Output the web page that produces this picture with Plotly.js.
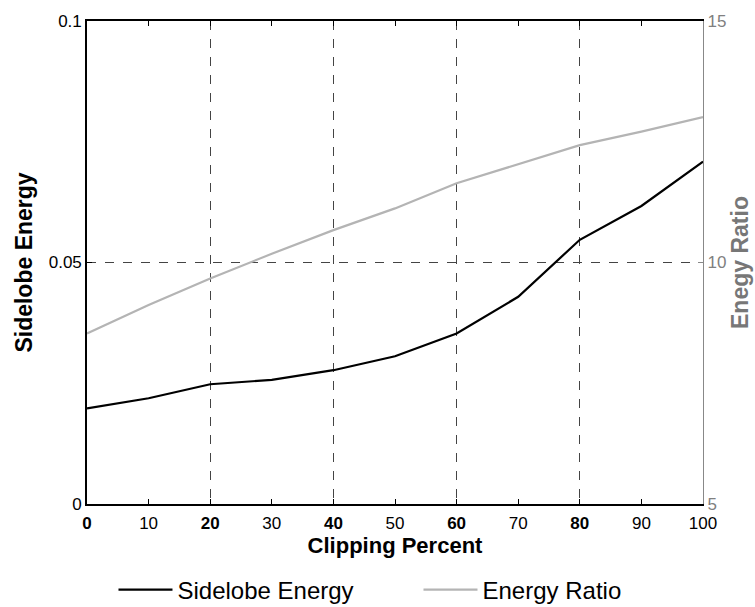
<!DOCTYPE html>
<html>
<head>
<meta charset="utf-8">
<script src="https://cdn.plot.ly/plotly-3.0.1.min.js"></script>
<style>html,body{margin:0;padding:0;background:#fff;}#chart{width:755px;height:607px;}</style>
</head>
<body>
<div id="chart"></div>
<script>
var clipping = [0, 10, 20, 30, 40, 50, 60, 70, 80, 90, 100];
var sidelobeEnergy = [0.0198, 0.0219, 0.0248, 0.0257, 0.0277, 0.0306, 0.0353, 0.0429, 0.0547, 0.0617, 0.0709];
var energyRatio = [8.53, 9.12, 9.67, 10.18, 10.67, 11.12, 11.64, 12.04, 12.43, 12.71, 13.01];
var xTickVals = [0, 10, 20, 30, 40, 50, 60, 70, 80, 90, 100];
var xTickText = ['<b>0</b>', '10', '<b>20</b>', '30', '<b>40</b>', '50', '<b>60</b>', '70', '<b>80</b>', '90', '100'];
var leftTickVals = [0, 0.05, 0.1];
var leftTickText = ['0', '0.05', '0.1'];
var rightTickVals = [5, 10, 15];
var rightTickText = ['5', '10', '15'];

var FONT = 'Liberation Sans, Arial, sans-serif';

var traces = [
  {x: clipping, y: sidelobeEnergy, name: 'Sidelobe Energy', type: 'scatter', mode: 'lines',
   line: {color: '#000000', width: 2.2}, xaxis: 'x', yaxis: 'y'},
  {x: clipping, y: energyRatio, name: 'Energy Ratio', type: 'scatter', mode: 'lines',
   line: {color: '#b4b4b4', width: 2.2}, xaxis: 'x2', yaxis: 'y2'}
];

var layout = {
  width: 755, height: 607,
  margin: {l: 87, r: 52, t: 21, b: 103},
  paper_bgcolor: '#ffffff', plot_bgcolor: '#ffffff',
  font: {family: FONT, size: 17, color: '#000'},
  showlegend: true,
  legend: {orientation: 'h', x: 0.043, xanchor: 'left', yref: 'container', y: 0.028, yanchor: 'middle',
           font: {family: FONT, size: 24, color: '#000'}, itemwidth: 54, entrywidth: 236,
           bgcolor: 'rgba(0,0,0,0)', tracegroupgap: 0},
  xaxis: {range: [0, 100], tickvals: xTickVals, ticktext: xTickText, ticks: 'inside', ticklen: 5,
          tickcolor: '#000', showline: true, linecolor: '#000', linewidth: 1.6, mirror: 'ticks',
          showgrid: false, zeroline: false, automargin: false, ticklabelstandoff: 3,
          tickfont: {family: FONT, size: 17, color: '#000'},
          title: {text: '<b>Clipping Percent</b>', font: {family: FONT, size: 22, color: '#000'}, standoff: 4}},
  xaxis2: {range: [0, 100], overlaying: 'x', anchor: 'y2', dtick: 20, tick0: 0, showticklabels: false,
           ticks: '', showline: false, showgrid: true, gridcolor: '#444', griddash: 'dash', gridwidth: 1,
           zeroline: false},
  yaxis: {range: [0, 0.1], tickvals: leftTickVals, ticktext: leftTickText, ticks: 'inside', ticklen: 5,
          tickcolor: '#000', showline: true, linecolor: '#000', linewidth: 1.8, mirror: false,
          showgrid: true, gridcolor: '#444', griddash: 'dash', gridwidth: 1, zeroline: false,
          automargin: false, tickfont: {family: FONT, size: 17, color: '#000'},
          title: {text: '<b>Sidelobe Energy</b>', font: {family: FONT, size: 23, color: '#000'}, standoff: 10}},
  yaxis2: {range: [5, 15], overlaying: 'y', side: 'right', anchor: 'x', tickvals: rightTickVals,
           ticktext: rightTickText, ticks: 'inside', ticklen: 5, tickcolor: '#888', showline: true,
           linecolor: '#888', linewidth: 1.2, showgrid: false, zeroline: false, automargin: false,
           tickfont: {family: FONT, size: 17, color: '#808080'},
           title: {text: '<b>Enegy Ratio</b>', font: {family: FONT, size: 23, color: '#777'}, standoff: 6}}
};

Plotly.newPlot('chart', traces, layout, {displayModeBar: false, staticPlot: true});
</script>
</body>
</html>
